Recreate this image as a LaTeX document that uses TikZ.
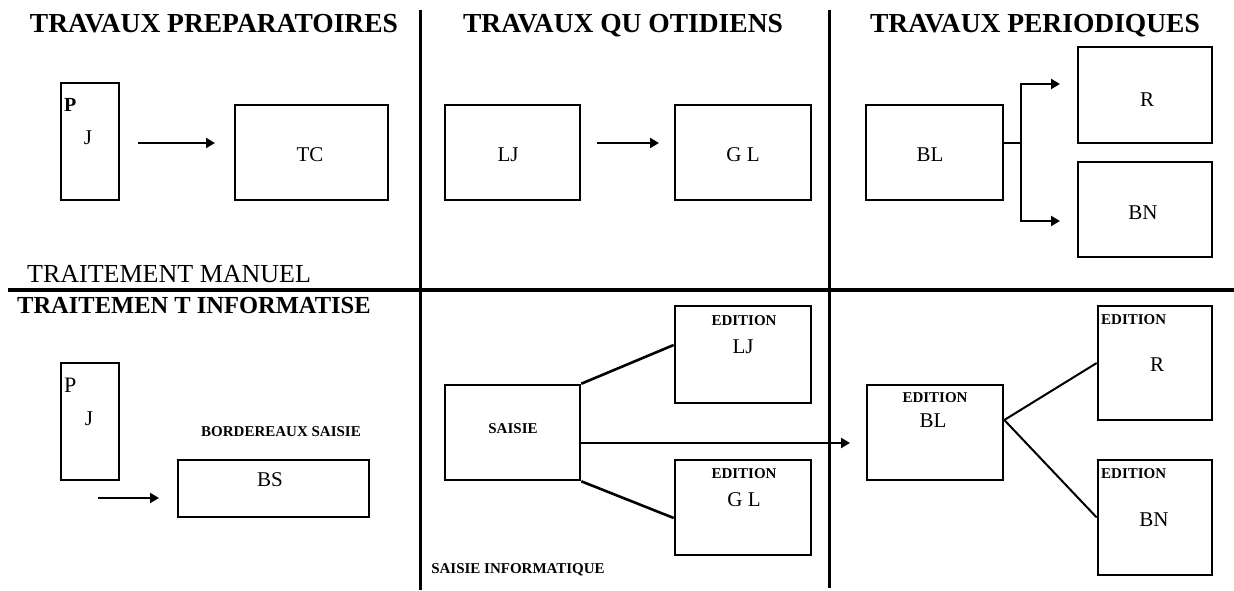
\documentclass[tikz,border=0pt]{standalone}
\usepackage{fontspec}
\setmainfont{Liberation Serif}
\usetikzlibrary{arrows.meta,calc}
\tikzset{
  box/.style={draw, line width=2.6pt, inner sep=0pt},
  sep/.style={line width=4pt},
  sepv/.style={line width=3pt},
  link/.style={line width=2.6pt},
  arr/.style={line width=2.6pt, -{Triangle[length=9pt,width=10pt]}},
  head/.style={font=\fontsize{27.5}{27.5}\selectfont\bfseries, inner sep=0pt, anchor=base},
  sub/.style={font=\fontsize{26}{26}\selectfont, inner sep=0pt, anchor=base west},
  lab/.style={font=\fontsize{21}{21}\selectfont, inner sep=0pt},
  tiny/.style={font=\fontsize{15}{15}\selectfont\bfseries, inner sep=0pt},
}
\begin{document}
\begin{tikzpicture}[x=1pt,y=-1pt]
\useasboundingbox (0,0) rectangle (1234,591);
% separators
\draw[sepv] (420,10) -- (420,590);
\draw[sepv] (829,10) -- (829,588);
\draw[sep] (8,290) -- (1234,290);
% headings
\node[head] (h1) at (214,33) {TRAVAUX PREPARATOIRES};
\node[head] (h2) at (623,33) {TRAVAUX QU OTIDIENS};
\node[head] (h3) at (1035,33) {TRAVAUX PERIODIQUES};
\node[sub] (m1) at (27,282) {TRAITEMENT MANUEL};
\node[head, anchor=base west, font=\fontsize{24.5}{24.5}\selectfont\bfseries] (m2) at (17,313) {TRAITEMEN T INFORMATISE};
% top left
\node[box, minimum width=58pt, minimum height=117pt] (pj1) at (90,141.5) {};
\node[font=\fontsize{20}{20}\selectfont\bfseries, inner sep=0pt, anchor=base west] (p1) at (64,112) {P};
\node[lab, anchor=base] (j1) at (88,145) {J};
\node[box, minimum width=153pt, minimum height=95pt] (tc) at (311.5,152.5) {};
\node[lab] (tcl) at (310,155) {TC};
\coordinate (a1s) at (138,143); \coordinate (a1e) at (215,143);
\draw[arr] (a1s) -- (a1e);
% top middle
\node[box, minimum width=135pt, minimum height=95pt] (lj) at (512.5,152.5) {};
\node[lab] (ljl) at (508,155) {LJ};
\node[box, minimum width=136pt, minimum height=95pt] (gl) at (743,152.5) {};
\node[lab] (gll) at (743,155) {G L};
\coordinate (a2s) at (597,143); \coordinate (a2e) at (659,143);
\draw[arr] (a2s) -- (a2e);
% top right
\node[box, minimum width=137pt, minimum height=95pt] (bl) at (934.5,152.5) {};
\node[lab] (bll) at (930,155) {BL};
\node[box, minimum width=134pt, minimum height=96pt] (r) at (1145,95) {};
\node[lab] (rl) at (1147,100) {R};
\node[box, minimum width=134pt, minimum height=95pt] (bn) at (1145,209.5) {};
\node[lab] (bnl) at (1143,213) {BN};
\coordinate (br) at (1021,143);
\coordinate (rt) at (1060,84);
\coordinate (bt) at (1060,221);
\draw[link] (bl.east |- br) -- (br);
\draw[arr] (br) |- (rt);
\draw[arr] (br) |- (bt);
% bottom left
\node[box, minimum width=58pt, minimum height=117pt] (pj2) at (90,421.5) {};
\node[font=\fontsize{22}{22}\selectfont, inner sep=0pt, anchor=base west] (p2) at (64,392) {P};
\node[lab, anchor=base] (j2) at (89,425) {J};
\node[tiny] (bsc) at (281,432) {BORDEREAUX SAISIE};
\node[box, minimum width=191pt, minimum height=57pt] (bs) at (273.5,488.5) {};
\node[lab] (bsl) at (270,480) {BS};
\coordinate (a3s) at (98,498); \coordinate (a3e) at (159,498);
\draw[arr] (a3s) -- (a3e);
% bottom middle
\node[box, minimum width=135pt, minimum height=95pt] (sa) at (512.5,432.5) {};
\node[tiny] (sal) at (513,429) {SAISIE};
\node[box, minimum width=136pt, minimum height=97pt] (elj) at (743,354.5) {};
\node[tiny] (eljt) at (744,321) {EDITION};
\node[lab] (eljl) at (743,347) {LJ};
\node[box, minimum width=136pt, minimum height=95pt] (egl) at (743,507.5) {};
\node[tiny] (eglt) at (744,474) {EDITION};
\node[lab] (egll) at (744,500) {G L};
\node[tiny] (si) at (518,570) {SAISIE INFORMATIQUE};
\draw[link] (sa.north east) -- ($(elj.west)+(0,-9.5)$);
\draw[link] (sa.south east) -- ($(egl.west)+(0,10.5)$);
\coordinate (a4e) at (850,443);
\draw[arr] ($(sa.east)+(0,10.5)$) -- (a4e);
% bottom right
\node[box, minimum width=136pt, minimum height=95pt] (ebl) at (935,432.5) {};
\node[tiny] (eblt) at (935,398) {EDITION};
\node[lab] (ebll) at (933,421) {BL};
\node[box, minimum width=114pt, minimum height=114pt] (er) at (1155,363) {};
\node[tiny, anchor=west] (ert) at (1101,320) {EDITION};
\node[lab] (erl) at (1157,365) {R};
\node[box, minimum width=114pt, minimum height=115pt] (ebn) at (1155,517.5) {};
\node[tiny, anchor=west] (ebnt) at (1101,474) {EDITION};
\node[lab] (ebnl) at (1154,520) {BN};
\draw[link, line width=2pt] ($(ebl.east)+(0,-12.5)$) -- (er.west);
\draw[link, line width=2pt] ($(ebl.east)+(0,-12.5)$) -- (ebn.west);
\end{tikzpicture}
\end{document}
